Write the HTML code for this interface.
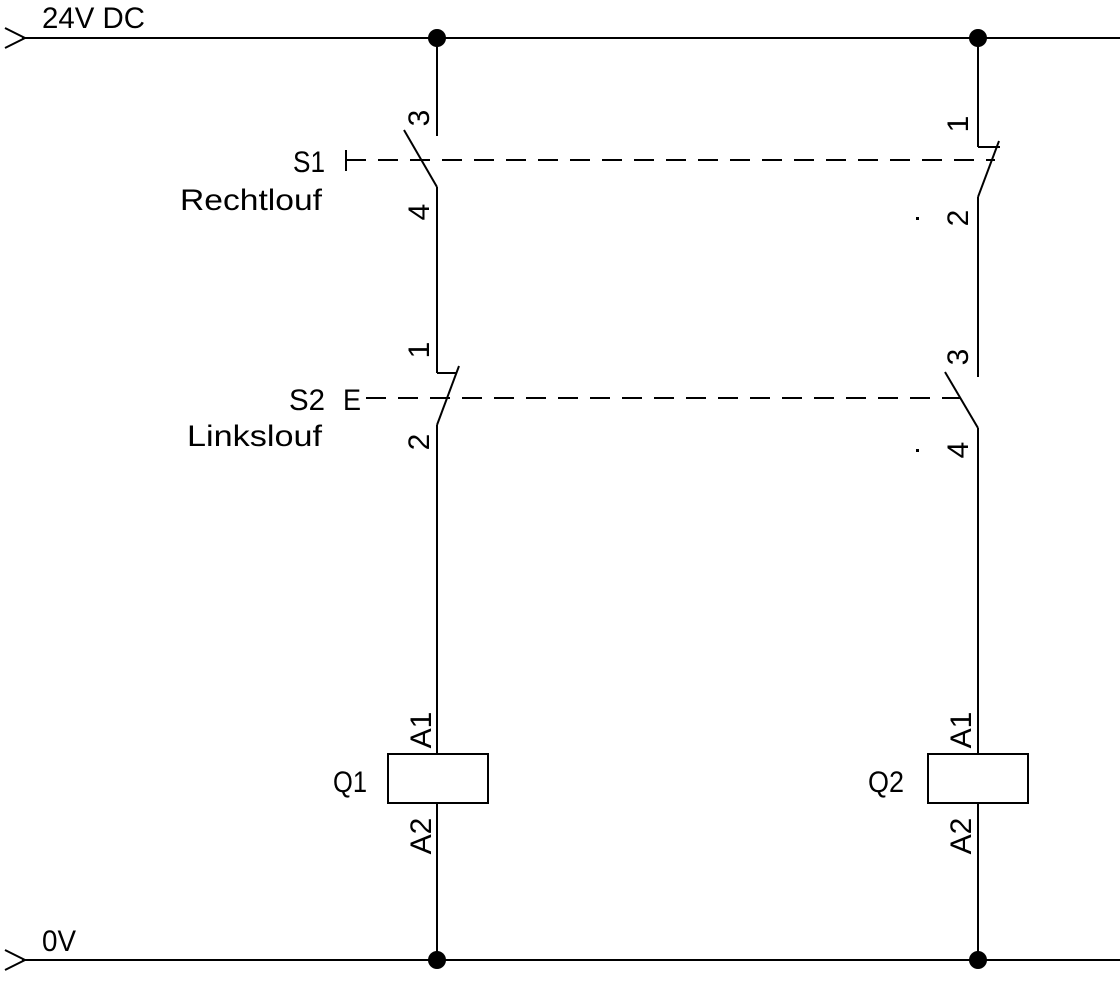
<!DOCTYPE html>
<html><head><style>html,body{margin:0;padding:0;background:#fff}svg{display:block}</style></head>
<body>
<svg width="1120" height="993" viewBox="0 0 1120 993" xmlns="http://www.w3.org/2000/svg" font-family="Liberation Sans, sans-serif" font-size="30" fill="#000">
<g stroke="#000" stroke-width="2" fill="none">
<line x1="22" y1="38" x2="1120" y2="38"/>
<polyline points="5,28 25,38 5,48"/>
<line x1="22" y1="960" x2="1120" y2="960"/>
<polyline points="5,950 25,960 5,970"/>
<line x1="437" y1="38" x2="437" y2="136"/>
<line x1="404" y1="130" x2="437" y2="187"/>
<line x1="437" y1="187" x2="437" y2="373"/>
<line x1="437" y1="373" x2="456" y2="373"/>
<line x1="459" y1="366" x2="437" y2="425"/>
<line x1="437" y1="425" x2="437" y2="754"/>
<rect x="388" y="754" width="100" height="49"/>
<line x1="437" y1="803" x2="437" y2="960"/>
<line x1="978" y1="38" x2="978" y2="147"/>
<line x1="978" y1="147" x2="1000" y2="147"/>
<line x1="999" y1="141" x2="978" y2="197"/>
<line x1="978" y1="197" x2="978" y2="377"/>
<line x1="945" y1="372" x2="978" y2="428"/>
<line x1="978" y1="428" x2="978" y2="754"/>
<rect x="928" y="754" width="100" height="49"/>
<line x1="978" y1="803" x2="978" y2="960"/>
<line x1="346" y1="150" x2="346" y2="171"/>
<line x1="346" y1="160" x2="995" y2="160" stroke-dasharray="20,12"/>
<line x1="366" y1="398" x2="960" y2="398" stroke-dasharray="20,12"/>
</g>
<circle cx="437" cy="38" r="9"/><circle cx="978" cy="38" r="9"/>
<circle cx="437" cy="960" r="9"/><circle cx="978" cy="960" r="9"/>
<rect x="916" y="217" width="3" height="3"/><rect x="916" y="449" width="3" height="3"/>
<text x="42" y="28" textLength="103" lengthAdjust="spacingAndGlyphs">24V DC</text>
<text x="42" y="951" textLength="34" lengthAdjust="spacingAndGlyphs">0V</text>
<text x="293" y="172" textLength="32" lengthAdjust="spacingAndGlyphs">S1</text>
<text x="180" y="210" textLength="142" lengthAdjust="spacingAndGlyphs">Rechtlouf</text>
<text x="289" y="410" textLength="36" lengthAdjust="spacingAndGlyphs">S2</text>
<text x="343" y="410" textLength="18" lengthAdjust="spacingAndGlyphs">E</text>
<text x="187" y="446" textLength="135" lengthAdjust="spacingAndGlyphs">Linkslouf</text>
<text x="333" y="792" textLength="34" lengthAdjust="spacingAndGlyphs">Q1</text>
<text x="868" y="792" textLength="36" lengthAdjust="spacingAndGlyphs">Q2</text>
<g font-size="30">
<text transform="translate(429,118) rotate(-90)" text-anchor="middle">3</text>
<text transform="translate(429,212) rotate(-90)" text-anchor="middle">4</text>
<text transform="translate(429,350) rotate(-90)" text-anchor="middle">1</text>
<text transform="translate(429,442) rotate(-90)" text-anchor="middle">2</text>
<text transform="translate(968,124) rotate(-90)" text-anchor="middle">1</text>
<text transform="translate(968,218) rotate(-90)" text-anchor="middle">2</text>
<text transform="translate(968,357) rotate(-90)" text-anchor="middle">3</text>
<text transform="translate(968,450) rotate(-90)" text-anchor="middle">4</text>
<text transform="translate(431,730) rotate(-90)" text-anchor="middle">A1</text>
<text transform="translate(431,836) rotate(-90)" text-anchor="middle">A2</text>
<text transform="translate(971,730) rotate(-90)" text-anchor="middle">A1</text>
<text transform="translate(971,836) rotate(-90)" text-anchor="middle">A2</text>
</g>
</svg>
</body></html>
